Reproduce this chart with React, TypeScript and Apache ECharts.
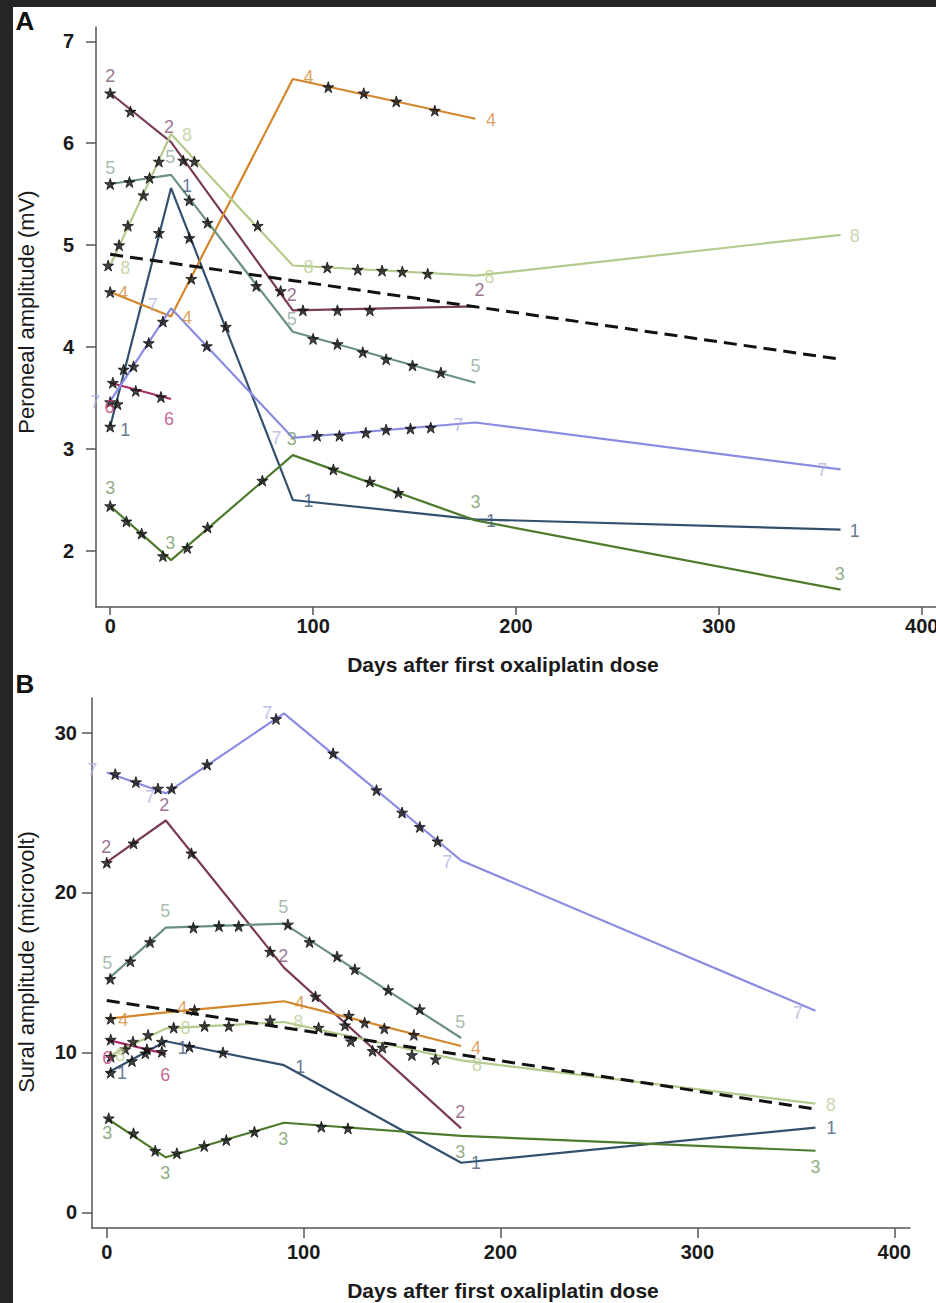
import React, { useEffect, useRef } from "react";
import * as echarts from "echarts";

type Pt = [number, number];

const patients = ["1", "2", "3", "4", "5", "6", "7", "8"];
const lineColors = ["#34506f", "#7a3b58", "#4d7a2d", "#d3862b", "#6a917e", "#a82c63", "#8a8ce2", "#b4ca8c"];
const labelColors = ["#3e5676", "#7e4f73", "#6f9562", "#d38a36", "#8eaa9c", "#b8407c", "#aeb0e3", "#b9cd95"];

const dayTicks = [0, 100, 200, 300, 400];
const peronealTicks = [2, 3, 4, 5, 6, 7];
const suralTicks = [0, 10, 20, 30];

// ---------- Panel A: peroneal amplitude (mV) ----------
const perFit1: Pt[] = [[0, 3.22], [30, 5.56], [90, 2.5], [180, 2.31], [360, 2.21]];
const perFit2: Pt[] = [[0, 6.49], [30, 6.01], [90, 4.36], [180, 4.4]];
const perFit3: Pt[] = [[0, 2.44], [30, 1.91], [90, 2.94], [180, 2.3], [360, 1.62]];
const perFit4: Pt[] = [[0, 4.54], [30, 4.3], [90, 6.63], [180, 6.24]];
const perFit5: Pt[] = [[0, 5.6], [30, 5.69], [90, 4.15], [180, 3.65]];
const perFit6: Pt[] = [[0, 3.65], [30, 3.49]];
const perFit7: Pt[] = [[0, 3.47], [30, 4.38], [90, 3.11], [180, 3.26], [360, 2.8]];
const perFit8: Pt[] = [[0, 4.8], [30, 6.09], [90, 4.8], [180, 4.7], [360, 5.1]];
const perMean: Pt[] = [[0, 4.91], [360, 3.88]];

const perObs1: Pt[] = [[0, 3.22], [3.6, 3.44], [6.6, 3.78], [24, 5.12], [39, 5.07], [57, 4.2]];
const perObs2: Pt[] = [[0, 6.49], [10, 6.31], [36, 5.83], [41.5, 5.82], [84, 4.55], [95, 4.36], [112, 4.36], [128, 4.36]];
const perObs3: Pt[] = [[0, 2.44], [8, 2.29], [15.5, 2.17], [26, 1.95], [38, 2.03], [48, 2.23], [75, 2.69], [110, 2.8], [128, 2.68], [142, 2.57]];
const perObs4: Pt[] = [[0, 4.54], [40, 4.67], [107.5, 6.55], [125, 6.49], [141, 6.41], [160, 6.32]];
const perObs5: Pt[] = [[0, 5.6], [9.5, 5.62], [19.4, 5.66], [39, 5.44], [48, 5.22], [72, 4.6], [100, 4.08], [112, 4.03], [124.5, 3.95], [136, 3.88], [149, 3.82], [163, 3.75]];
const perObs6: Pt[] = [[1.3, 3.65], [12.6, 3.57], [25, 3.51]];
const perObs7: Pt[] = [[0, 3.46], [11.5, 3.81], [19, 4.04], [26, 4.25], [47.6, 4.01], [102, 3.13], [113, 3.13], [126, 3.16], [136, 3.19], [148, 3.2], [158, 3.21]];
const perObs8: Pt[] = [[-1, 4.8], [4.4, 5.0], [8.7, 5.19], [16.4, 5.49], [24, 5.82], [72.7, 5.19], [107, 4.78], [122, 4.76], [134, 4.75], [144, 4.74], [156.5, 4.72]];

const perLab1: Pt[] = [[7.4, 3.19], [37.8, 5.58], [97.7, 2.49], [187.7, 2.29], [367, 2.2]];
const perLab2: Pt[] = [[0, 6.66], [29, 6.16], [89.5, 4.51], [182, 4.56]];
const perLab3: Pt[] = [[0, 2.62], [29.6, 2.08], [89.5, 3.1], [180, 2.48], [359.6, 1.77]];
const perLab4: Pt[] = [[6.4, 4.53], [37.8, 4.29], [97.7, 6.65], [187.7, 6.23]];
const perLab5: Pt[] = [[0, 5.76], [29.6, 5.86], [89.5, 4.28], [180, 3.81]];
const perLab6: Pt[] = [[-0.3, 3.41], [29, 3.29]];
const perLab7: Pt[] = [[-7.4, 3.46], [21, 4.41], [82, 3.11], [171.6, 3.24], [351, 2.79]];
const perLab8: Pt[] = [[7.4, 4.78], [37.8, 6.08], [97.7, 4.79], [187, 4.69], [367, 5.09]];

// ---------- Panel B: sural amplitude (microvolt) ----------
const surFit1: Pt[] = [[0, 8.7], [30, 10.7], [90, 9.2], [180, 3.1], [360, 5.3]];
const surFit2: Pt[] = [[0, 21.9], [30, 24.5], [90, 15.3], [180, 5.25]];
const surFit3: Pt[] = [[0, 5.88], [30, 3.44], [90, 5.6], [180, 4.78], [360, 3.85]];
const surFit4: Pt[] = [[0, 12.1], [30, 12.5], [90, 13.2], [180, 10.4]];
const surFit5: Pt[] = [[0, 14.5], [30, 17.8], [90, 18.05], [180, 10.9]];
const surFit6: Pt[] = [[0, 10.8], [30, 9.9]];
const surFit7: Pt[] = [[0, 27.5], [30, 26.2], [90, 31.2], [180, 22.0], [360, 12.6]];
const surFit8: Pt[] = [[0, 9.7], [30, 11.5], [90, 11.9], [180, 9.5], [360, 6.8]];
const surMean: Pt[] = [[0, 13.25], [360, 6.45]];

const surObs1: Pt[] = [[2, 8.73], [12.8, 9.46], [19.6, 9.94], [28, 10.67], [42, 10.35], [59, 10.0]];
const surObs2: Pt[] = [[0, 21.86], [13.6, 23.07], [43, 22.45], [83, 16.3], [106, 13.5], [121, 11.7], [135, 10.1]];
const surObs3: Pt[] = [[1, 5.88], [13.6, 4.94], [24.6, 3.85], [35.6, 3.69], [49.5, 4.15], [60.7, 4.52], [75, 5.04], [109, 5.35], [122.5, 5.25]];
const surObs4: Pt[] = [[2, 12.1], [44.6, 12.65], [123, 12.3], [131, 11.86], [141, 11.5], [156, 11.1]];
const surObs5: Pt[] = [[1.8, 14.6], [12, 15.7], [22, 16.9], [44, 17.8], [57, 17.9], [67, 17.9], [92, 18.0], [103, 16.9], [117, 16.0], [126, 15.2], [143, 13.9], [159, 12.7]];
const surObs6: Pt[] = [[2, 10.8], [13.3, 10.67], [20.4, 10.19], [28, 10.04]];
const surObs7: Pt[] = [[4.3, 27.4], [14.8, 26.9], [26, 26.5], [33, 26.5], [51, 28.0], [86, 30.85], [115, 28.7], [137, 26.4], [150, 25.0], [159, 24.1], [168, 23.2]];
const surObs8: Pt[] = [[2, 9.73], [9.4, 10.2], [21, 11.09], [34, 11.55], [49.7, 11.65], [62, 11.65], [83, 12.0], [107.6, 11.55], [124, 10.7], [140, 10.3], [155, 9.84], [167, 9.57]];

const surLab1: Pt[] = [[7.7, 8.7], [38.5, 10.25], [98.3, 9.07], [187.6, 3.06], [368, 5.25]];
const surLab2: Pt[] = [[-0.3, 22.85], [29.2, 25.5], [89.6, 16.0], [179.6, 6.27]];
const surLab3: Pt[] = [[0.3, 4.96], [29.7, 2.45], [89.6, 4.58], [179.6, 3.77], [360, 2.85]];
const surLab4: Pt[] = [[8.4, 12.0], [38.3, 12.75], [98, 13.1], [187.6, 10.3]];
const surLab5: Pt[] = [[0.3, 15.6], [29.7, 18.85], [89.6, 19.1], [179.6, 11.9]];
const surLab6: Pt[] = [[0.3, 9.65], [29.7, 8.58]];
const surLab7: Pt[] = [[-7.4, 27.66], [22, 25.98], [81.5, 31.22], [173, 21.9], [351, 12.46]];
const surLab8: Pt[] = [[6.9, 9.85], [40, 11.5], [97.3, 11.9], [188, 9.2], [367.8, 6.7]];

const perFits = [perFit1, perFit2, perFit3, perFit4, perFit5, perFit6, perFit7, perFit8];
const perObs = [perObs1, perObs2, perObs3, perObs4, perObs5, perObs6, perObs7, perObs8];
const perLabs = [perLab1, perLab2, perLab3, perLab4, perLab5, perLab6, perLab7, perLab8];
const surFits = [surFit1, surFit2, surFit3, surFit4, surFit5, surFit6, surFit7, surFit8];
const surObs = [surObs1, surObs2, surObs3, surObs4, surObs5, surObs6, surObs7, surObs8];
const surLabs = [surLab1, surLab2, surLab3, surLab4, surLab5, surLab6, surLab7, surLab8];

const STAR = "path://M50,0L61.8,35.1L98.9,35.1L68.9,56.9L80.4,91.9L50,70.2L19.6,91.9L31.1,56.9L1.1,35.1L38.2,35.1Z";
const FONT = "'Liberation Sans', Arial, Helvetica, sans-serif";

function panelSeries(idx: number, fits: Pt[][], obs: Pt[][], labs: Pt[][], mean: Pt[]) {
  const out: any[] = [];
  fits.forEach((d, i) => {
    out.push({
      type: "line", name: "Patient " + patients[i] + (idx ? " sural" : " peroneal"),
      xAxisIndex: idx, yAxisIndex: idx, data: d, symbol: "none", showSymbol: false,
      lineStyle: { color: lineColors[i], width: 2.2 }, z: 2, silent: true,
    });
  });
  out.push({
    type: "line", name: idx ? "Mean sural" : "Mean peroneal",
    xAxisIndex: idx, yAxisIndex: idx, data: mean, symbol: "none", showSymbol: false,
    lineStyle: { color: "#111", width: 3, type: [13, 7] }, z: 3, silent: true,
  });
  out.push({
    type: "scatter", name: idx ? "Observed sural" : "Observed peroneal",
    xAxisIndex: idx, yAxisIndex: idx, data: ([] as Pt[]).concat(...obs),
    symbol: STAR, symbolSize: 11,
    itemStyle: { color: "#111", borderColor: "#111", borderWidth: 1 }, z: 4, silent: true,
  });
  labs.forEach((d, i) => {
    out.push({
      type: "scatter", name: "Label " + patients[i] + (idx ? " sural" : " peroneal"),
      xAxisIndex: idx, yAxisIndex: idx, data: d, clip: false,
      symbol: "circle", symbolSize: 1, itemStyle: { color: "rgba(0,0,0,0)" },
      label: {
        show: true, position: "inside", formatter: patients[i],
        color: labelColors[i], fontSize: 18, fontFamily: FONT,
      },
      z: 5, silent: true,
    });
  });
  return out;
}

function xAxisCfg(grid: number, min: number, max: number, tickLen: number, margin: number) {
  return {
    gridIndex: grid, type: "value", min, max,
    axisLine: { show: true, onZero: false, lineStyle: { color: "#555", width: 1.5 } },
    axisTick: { show: true, length: tickLen, customValues: dayTicks, lineStyle: { color: "#555", width: 1.5 } },
    axisLabel: { customValues: dayTicks, fontWeight: "bold", fontSize: 20, color: "#1a1a1a", margin, fontFamily: FONT },
    splitLine: { show: false },
  };
}

function yAxisCfg(grid: number, min: number, max: number, ticks: number[], margin: number) {
  return {
    gridIndex: grid, type: "value", min, max,
    axisLine: { show: true, onZero: false, lineStyle: { color: "#555", width: 1.5 } },
    axisTick: { show: true, length: 10, customValues: ticks, lineStyle: { color: "#555", width: 1.5 } },
    axisLabel: { customValues: ticks, fontWeight: "bold", fontSize: 20, color: "#1a1a1a", margin, fontFamily: FONT },
    splitLine: { show: false },
  };
}

export default function App() {
  const ref = useRef<HTMLDivElement>(null);
  useEffect(() => {
    if (!ref.current) return;
    const chart = echarts.init(ref.current, undefined, { renderer: "svg" });
    chart.setOption({
      animation: false,
      backgroundColor: "#ffffff",
      grid: [
        { left: 83, top: 20, width: 846, height: 580 },
        { left: 79, top: 691, width: 818, height: 530 },
      ],
      xAxis: [xAxisCfg(0, -7, 410, 8, 9), xAxisCfg(1, -7.5, 408, 10, 14)],
      yAxis: [yAxisCfg(0, 1.45, 7.14, peronealTicks, 22), yAxisCfg(1, -0.98, 32.16, suralTicks, 15)],
      graphic: [
        { type: "text", x: 12, y: 14, style: { text: "A", fontSize: 26, fontWeight: "bold", fontFamily: FONT, fill: "#111", align: "center", verticalAlign: "middle" } },
        { type: "text", x: 12, y: 677, style: { text: "B", fontSize: 26, fontWeight: "bold", fontFamily: FONT, fill: "#111", align: "center", verticalAlign: "middle" } },
        { type: "text", x: 490, y: 657, style: { text: "Days after first oxaliplatin dose", fontSize: 21, fontWeight: "bold", fontFamily: FONT, fill: "#1a1a1a", align: "center", verticalAlign: "middle" } },
        { type: "text", x: 490, y: 1283, style: { text: "Days after first oxaliplatin dose", fontSize: 21, fontWeight: "bold", fontFamily: FONT, fill: "#1a1a1a", align: "center", verticalAlign: "middle" } },
        { type: "text", x: 13, y: 305, rotation: Math.PI / 2, style: { text: "Peroneal amplitude (mV)", fontSize: 22, fontFamily: FONT, fill: "#1a1a1a", align: "center", verticalAlign: "middle" } },
        { type: "text", x: 13, y: 955, rotation: Math.PI / 2, style: { text: "Sural amplitude (microvolt)", fontSize: 22, fontFamily: FONT, fill: "#1a1a1a", align: "center", verticalAlign: "middle" } },
      ],
      series: [
        ...panelSeries(0, perFits, perObs, perLabs, perMean),
        ...panelSeries(1, surFits, surObs, surLabs, surMean),
      ],
    });
    return () => chart.dispose();
  }, []);
  return (
    <div style={{ position: "absolute", left: 0, top: 0, width: 936, height: 1303, background: "#262626", overflow: "hidden" }}>
      <div ref={ref} style={{ position: "absolute", left: 13, top: 7, width: 950, height: 1296, background: "#fff" }} />
    </div>
  );
}
